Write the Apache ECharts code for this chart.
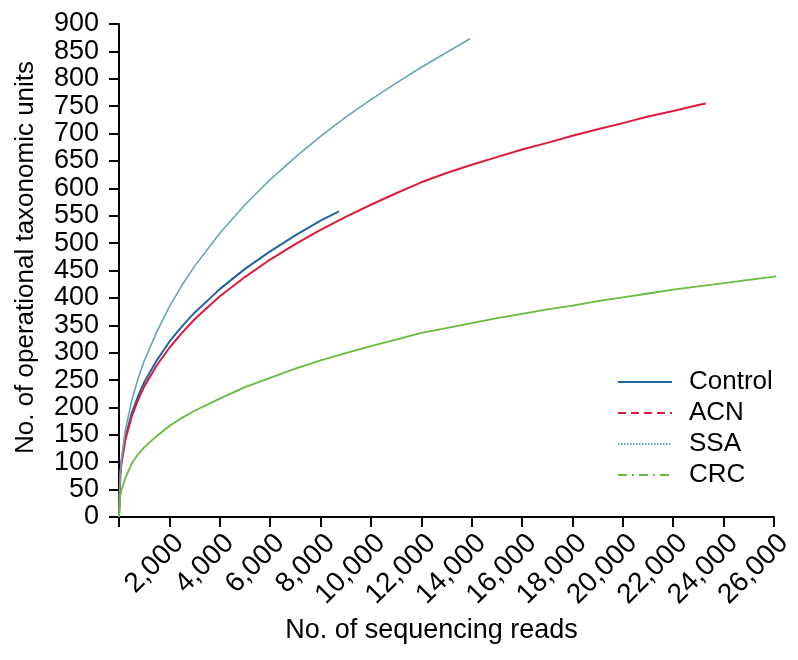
<!DOCTYPE html>
<html>
<head>
<meta charset="utf-8">
<script src="https://cdn.jsdelivr.net/npm/echarts@6/dist/echarts.min.js"></script>
<style>
html,body{margin:0;padding:0;background:#fff;}
#chart{width:798px;height:660px;}
</style>
</head>
<body>
<div id="chart"></div>
<script>
var seriesNames = ['Control', 'ACN', 'SSA', 'CRC'];
var xTicks = [0, 2000, 4000, 6000, 8000, 10000, 12000, 14000, 16000, 18000, 20000, 22000, 24000, 26000];
var yTicks = [0, 50, 100, 150, 200, 250, 300, 350, 400, 450, 500, 550, 600, 650, 700, 750, 800, 850, 900];

var controlX = [0, 50, 100, 250, 500, 750, 1000, 1500, 2000, 2500, 3000, 4000, 5000, 6000, 7000, 8000, 8730];
var controlY = [0, 78, 102, 145, 189, 220, 246, 286, 320, 348, 373, 416, 453, 485, 514, 541, 558];

var acnX = [0, 50, 100, 250, 500, 750, 1000, 1500, 2000, 2500, 3000, 4000, 5000, 6000, 7000, 8000, 9000, 10000, 11000, 12000, 13000, 14000, 15000, 16000, 17000, 18000, 19000, 20000, 21000, 22000, 23000, 23290];
var acnY = [0, 76, 99, 140, 183, 213, 238, 277, 309, 336, 361, 403, 438, 470, 498, 524, 548, 570, 591, 611, 628, 643, 657, 671, 683, 696, 708, 719, 731, 741, 752, 755];

var ssaX = [0, 50, 100, 250, 500, 750, 1000, 1500, 2000, 2500, 3000, 4000, 5000, 6000, 7000, 8000, 9000, 10000, 11000, 12000, 13000, 13930];
var ssaY = [0, 80, 107, 158, 212, 252, 285, 338, 384, 423, 458, 518, 570, 616, 657, 695, 730, 762, 792, 821, 848, 873];

var crcX = [0, 50, 100, 250, 500, 750, 1000, 1500, 2000, 2500, 3000, 4000, 5000, 6000, 7000, 8000, 9000, 10000, 11000, 12000, 13000, 14000, 15000, 16000, 17000, 18000, 19000, 20000, 21000, 22000, 23000, 24000, 25000, 26000, 26330];
var crcY = [0, 38, 50, 71, 97, 114, 127, 148, 166, 181, 194, 216, 237, 254, 271, 286, 299, 312, 324, 336, 345, 354, 363, 371, 379, 386, 394, 401, 408, 415, 421, 427, 433, 439, 441];

function pairs(xs, ys) { return xs.map(function (x, i) { return [x, ys[i]]; }); }

var colors = ['#1f66a6', '#dc1b3d', '#67a7b1', '#66bd3d'];
var legendDash = ['solid', [8, 5], [1.5, 1.5], [9, 5, 2, 5]];
var dataSets = [pairs(controlX, controlY), pairs(acnX, acnY), pairs(ssaX, ssaY), pairs(crcX, crcY)];
var widths = [2, 2, 1.6, 1.8];
var FONT = 'Liberation Sans, Arial, sans-serif';

var series = seriesNames.map(function (n, i) {
  return {
    name: n, type: 'line', data: dataSets[i], symbol: 'none', smooth: false,
    clip: false, lineStyle: { color: colors[i], width: widths[i] }, itemStyle: { color: colors[i] }
  };
});

var chart = echarts.init(document.getElementById('chart'), null, { renderer: 'canvas' });
chart.setOption({
  animation: false,
  backgroundColor: '#fff',
  grid: { left: 119, right: 24, top: 24, bottom: 143, containLabel: false },
  legend: {
    orient: 'vertical', left: 617, top: 369, padding: 0, itemWidth: 54, itemHeight: 14, itemGap: 5,
    textStyle: { fontFamily: FONT, fontSize: 26, color: '#000', padding: [0, 0, 0, 12] },
    data: seriesNames.map(function (n, i) {
      return { name: n, itemStyle: { color: 'rgba(0,0,0,0)', borderWidth: 0, opacity: 0 },
        lineStyle: { color: colors[i], width: 2, type: legendDash[i] } };
    })
  },
  xAxis: {
    type: 'value', min: xTicks[0], max: xTicks[xTicks.length - 1], interval: 2000,
    name: 'No. of sequencing reads', nameLocation: 'middle', nameGap: 100,
    nameTextStyle: { fontFamily: FONT, fontSize: 27, color: '#000', padding: [0, 30, 0, 0] },
    axisLine: { show: true, onZero: false, lineStyle: { color: '#000', width: 2 } },
    axisTick: { show: true, inside: false, length: 10, lineStyle: { color: '#000', width: 2 } },
    splitLine: { show: false },
    axisLabel: {
      rotate: 45, margin: 12, verticalAlign: 'top', fontFamily: FONT, fontSize: 28, color: '#000',
      formatter: function (v) { return v === 0 ? '' : v.toLocaleString('en-US'); }
    }
  },
  yAxis: {
    type: 'value', min: yTicks[0], max: yTicks[yTicks.length - 1], interval: 50,
    name: 'No. of operational taxonomic units', nameLocation: 'middle', nameGap: 80, nameRotate: 90,
    nameTextStyle: { fontFamily: FONT, fontSize: 26, color: '#000', padding: [0, 0, 0, 26] },
    axisLine: { show: true, lineStyle: { color: '#000', width: 2 } },
    axisTick: { show: true, inside: false, length: 10, lineStyle: { color: '#000', width: 2 } },
    splitLine: { show: false },
    axisLabel: { margin: 20, fontFamily: FONT, fontSize: 27, color: '#000' }
  },
  series: series
});
</script>
</body>
</html>
